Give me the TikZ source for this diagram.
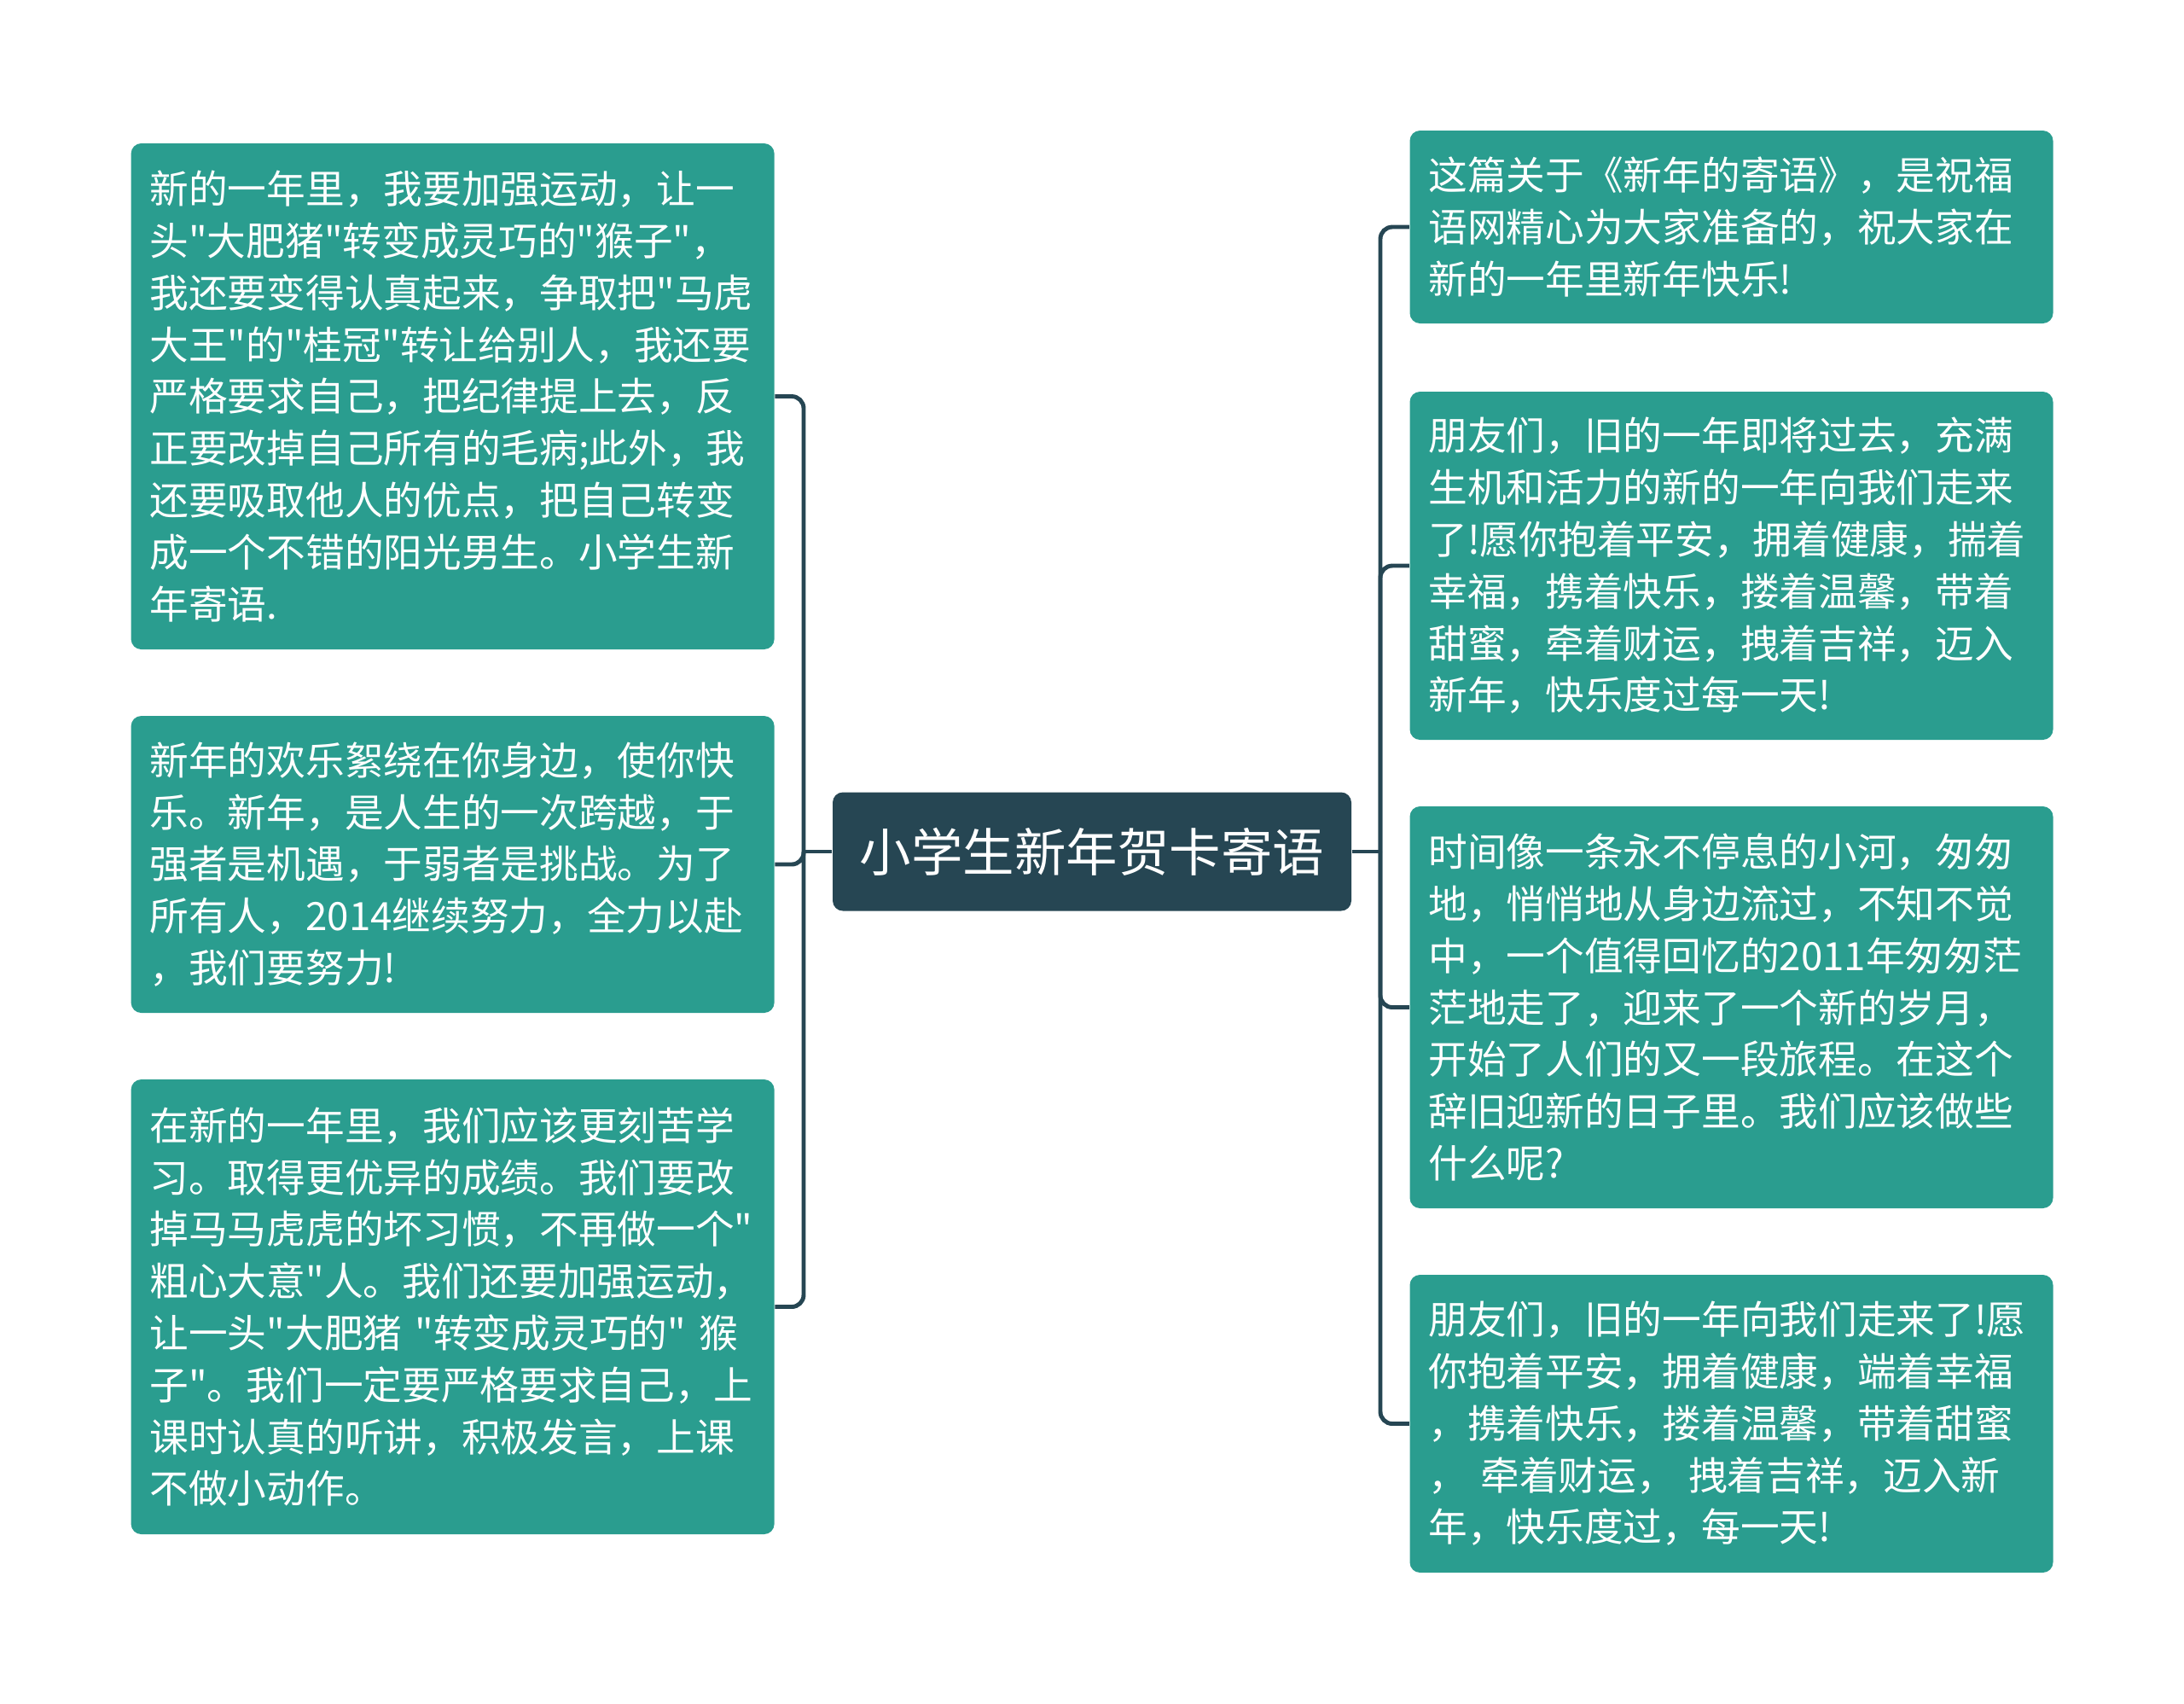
\documentclass[tikz,border=0pt]{standalone}
\usepackage{fontspec}
\newfontfamily\cjk[Ligatures=TeXOff]{Noto Sans CJK SC}
\usetikzlibrary{positioning, calc}
\definecolor{mydark}{RGB}{38,70,83}
\definecolor{myteal}{RGB}{42,157,143}
\tikzset{
  topic/.style={draw=none, fill=mydark, text=white, rounded corners=0.12cm,
    minimum width=6.08cm, minimum height=1.39cm, inner sep=0,
    font=\cjk\fontsize{17.2}{20}\selectfont},
  leaf/.style={draw=none, fill=myteal, text=white, rounded corners=0.12cm,
    text width=7.1cm, inner xsep=0.22cm, inner ysep=0, align=left,
    font=\cjk\fontsize{13}{17.3}\selectfont},
  link/.style={draw=mydark, line width=1.4pt, rounded corners=0.14cm}
}

\begin{document}
\begin{tikzpicture}
\useasboundingbox (0,0) rectangle (25.6,-19.96);

%center
\node [topic] (title) at (12.8,-9.98) {小学生新年贺卡寄语};
\coordinate (lspine) at (9.42,-9.98);
\coordinate (rspine) at (16.18,-9.98);

%left side
\node [leaf, minimum height=5.93cm] (L1) at (5.306,-4.645) {新的一年里，我要加强运动，让一\\头"大肥猪"转变成灵巧的"猴子"，\\我还要变得认真起来，争取把"马虎\\大王"的"桂冠"转让给别人，我还要\\严格要求自己，把纪律提上去，反\\正要改掉自己所有的毛病;此外，我\\还要吸取他人的优点，把自己转变\\成一个不错的阳光男生。小学生新\\年寄语.};
\node [leaf, minimum height=3.48cm] (L2) at (5.306,-10.13) {新年的欢乐絮绕在你身边，使你快\\乐。新年，是人生的一次跨越，于\\强者是机遇，于弱者是挑战。为了\\所有人，2014继续努力，全力以赴\\，我们要努力!};
\node [leaf, minimum height=5.33cm] (L3) at (5.306,-15.315) {在新的一年里，我们应该更刻苦学\\习。取得更优异的成绩。我们要改\\掉马马虎虎的坏习惯，不再做一个"\\粗心大意"人。我们还要加强运动，\\让一头"大肥猪 "转变成灵巧的" 猴\\子"。我们一定要严格要求自己，上\\课时认真的听讲，积极发言，上课\\不做小动作。};

%right side
\node [leaf, minimum height=2.26cm] (R1) at (20.295,-2.66) {这篇关于《新年的寄语》，是祝福\\语网精心为大家准备的，祝大家在\\新的一年里新年快乐!};
\node [leaf, minimum height=4.08cm] (R2) at (20.295,-6.63) {朋友们，旧的一年即将过去，充满\\生机和活力的新的一年向我们走来\\了!愿你抱着平安，拥着健康，揣着\\幸福，携着快乐，搂着温馨，带着\\甜蜜，牵着财运，拽着吉祥，迈入\\新年，快乐度过每一天!};
\node [leaf, minimum height=4.71cm] (R3) at (20.295,-11.805) {时间像一条永不停息的小河，匆匆\\地，悄悄地从身边流过，不知不觉\\中，一个值得回忆的2011年匆匆茫\\茫地走了，迎来了一个新的岁月，\\开始了人们的又一段旅程。在这个\\辞旧迎新的日子里。我们应该做些\\什么呢?};
\node [leaf, minimum height=3.49cm] (R4) at (20.295,-16.685) {朋友们，旧的一年向我们走来了!愿\\你抱着平安，拥着健康，端着幸福\\，携着快乐，搂着温馨，带着甜蜜\\， 牵着财运， 拽着吉祥，迈入新\\年，快乐度过，每一天!};

%connectors
\draw[link] (title.west) -- (lspine);
\draw[link] (lspine) |- (L1.east);
\draw[link] (lspine) |- (L2.east);
\draw[link] (lspine) |- (L3.east);

\draw[link] (title.east) -- (rspine);
\draw[link] (rspine) |- (R1.west);
\draw[link] (rspine) |- (R2.west);
\draw[link] (rspine) |- (R3.west);
\draw[link] (rspine) |- (R4.west);

\end{tikzpicture}
\end{document}
